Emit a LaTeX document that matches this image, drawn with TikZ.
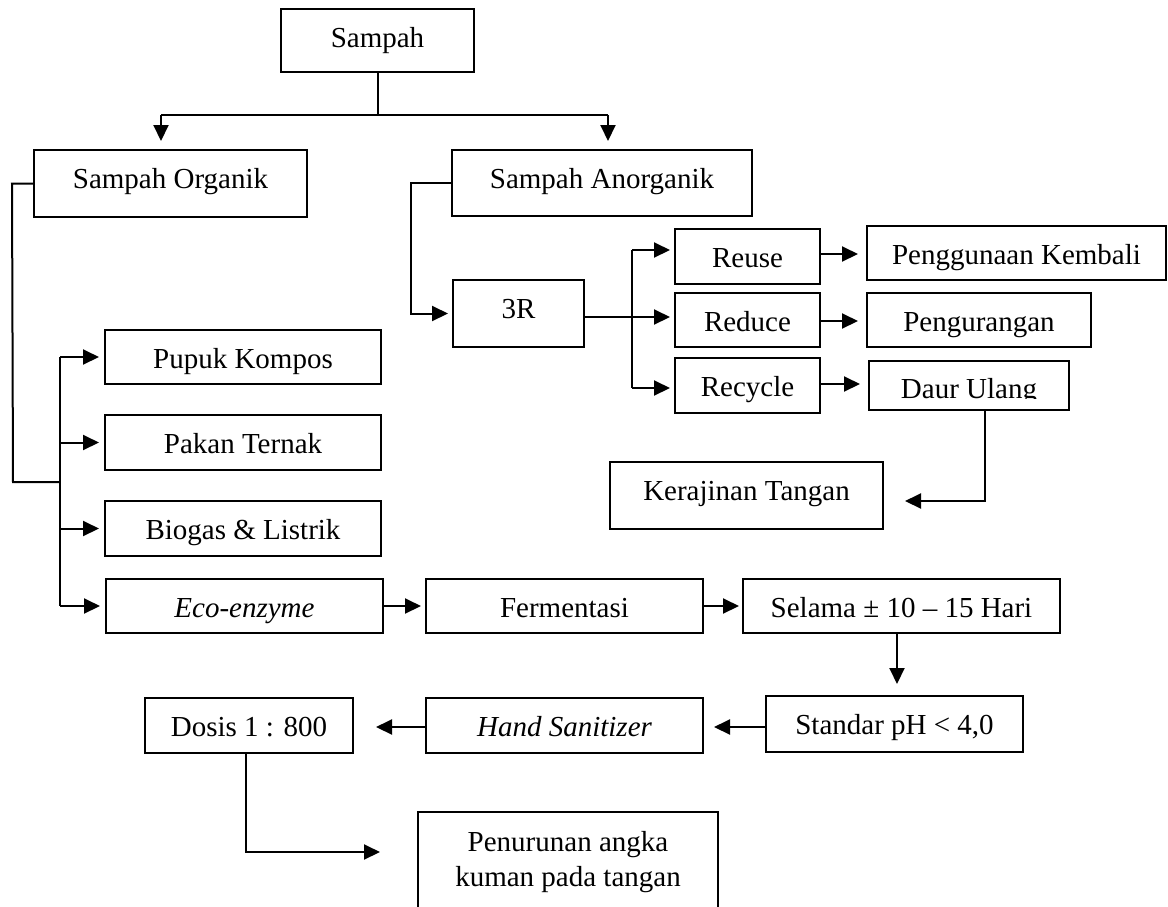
\documentclass[tikz,border=0pt]{standalone}
\usepackage{fontspec}
\setmainfont{Liberation Serif}
\usetikzlibrary{arrows.meta}
\begin{document}
\begin{tikzpicture}[x=1pt,y=-1pt,
  box/.style={draw=black,line width=2pt,rectangle,inner sep=0pt,align=center,
    font=\fontsize{29}{35}\selectfont},
  bx/.style n args={3}{box,minimum width=#1pt,minimum height=#2pt,text height=#3pt,text depth=8pt},
  line/.style={line width=2pt},
  arr/.style={line width=2pt,-{Triangle[length=16pt,width=15pt]}}]
\useasboundingbox (0,0) rectangle (1168,906);
% nodes
\node[bx={193}{63}{21}] (sampah) at (377.5,40.5) {Sampah};
\node[bx={273}{67}{17}] (org) at (170.5,183.5) {Sampah Organik};
\node[bx={300}{66}{18}] (anorg) at (602,183) {Sampah Anorganik};
\node[bx={131}{67}{17}] (r3) at (518.5,313.5) {3R};
\node[bx={145}{55}{29}] (reuse) at (747.5,256.5) {Reuse};
\node[bx={145}{54}{30}] (reduce) at (747.5,320) {Reduce};
\node[bx={145}{55}{29}] (recycle) at (747.5,385.5) {Recycle};
\node[bx={299}{54}{30}] (peng) at (1016.5,253) {Penggunaan Kembali};
\node[bx={224}{54}{30}] (pengur) at (979,320) {Pengurangan};
\node[box,minimum width=200pt,minimum height=49pt] (daur) at (969,385.5) {};
\begin{scope}
\clip (869,361) rectangle (1069,398.5);
\node[font=\fontsize{29}{35}\selectfont,anchor=base,inner sep=0pt] (daurtext) at (969,398) {Daur Ulang};
\end{scope}
\node[bx={273}{67}{17}] (kera) at (746.5,495.5) {Kerajinan Tangan};
\node[bx={276}{54}{30}] (pupuk) at (243,357) {Pupuk Kompos};
\node[bx={276}{55}{29}] (pakan) at (243,442.5) {Pakan Ternak};
\node[bx={276}{55}{29}] (biogas) at (243,528.5) {Biogas \& Listrik};
\node[bx={277}{54}{30}] (eco) at (244.5,606) {\itshape Eco-enzyme};
\node[bx={277}{54}{30}] (ferm) at (564.5,606) {Fermentasi};
\node[bx={317}{54}{30}] (selama) at (901.5,606) {Selama ± 10 – 15 Hari};
\node[bx={257}{56}{28}] (standar) at (894.5,724) {Standar pH {\textless} 4,0};
\node[bx={277}{55}{29}] (hand) at (564.5,725.5) {\itshape Hand Sanitizer};
\node[bx={208}{55}{29}] (dosis) at (249,725.5) {Dosis 1 : 800};
\node[box,minimum width=300pt,minimum height=100pt] (penur) at (568,862) {Penurunan angka\\kuman pada tangan};
% helper coordinates
\coordinate (topbar) at (0,115);
\coordinate (tl) at (161,115);
\coordinate (tr) at (608,115);
\coordinate (lj) at (13,482);
\coordinate (br) at (60,482);
\coordinate (ajx) at (411,0);
\coordinate (rbx) at (632,0);
\coordinate (dx) at (985,0);
\coordinate (dy) at (0,501);
\coordinate (sx) at (897,0);
\coordinate (qx) at (246,0);
\coordinate (qy) at (0,852);
% top split
\draw[line] (sampah.south) -- (sampah.south |- topbar);
\draw[line] (tl) -- (tr);
\draw[arr,shorten >=8pt] (tl) -- (tl |- org.north);
\draw[arr,shorten >=8pt] (tr) -- (tr |- anorg.north);
% organik branches
\draw[line] (org.west) -- ++(-21,0) -- (lj) -- (br);
\draw[line] (pupuk.west -| br) -- (eco.west -| br);
\draw[arr,shorten >=5pt] (pupuk.west -| br) -- (pupuk.west);
\draw[arr,shorten >=5pt] (pakan.west -| br) -- (pakan.west);
\draw[arr,shorten >=5pt] (biogas.west -| br) -- (biogas.west);
\draw[arr,shorten >=5pt] (eco.west -| br) -- (eco.west);
% anorganik
\draw[arr,shorten >=4pt] (anorg.west) -- (anorg.west -| ajx) |- (r3.west);
\draw[line] (r3.east |- 0,317) -- (rbx |- 0,317);
\draw[line] (rbx |- 0,250) -- (rbx |- 0,388);
\draw[arr,shorten >=4pt] (rbx |- 0,250) -- (reuse.west |- 0,250);
\draw[arr,shorten >=4pt] (rbx |- 0,317) -- (reduce.west |- 0,317);
\draw[arr,shorten >=4pt] (rbx |- 0,388) -- (recycle.west |- 0,388);
\draw[arr,shorten >=8pt] (reuse.east |- 0,254) -- (peng.west |- 0,254);
\draw[arr,shorten >=8pt] (reduce.east |- 0,321) -- (pengur.west |- 0,321);
\draw[arr,shorten >=8pt] (recycle.east |- 0,384) -- (daur.west |- 0,384);
\draw[arr,shorten >=21pt] (daur.south -| dx) -- (dx |- dy) -- (kera.east |- dy);
% eco chain
\draw[arr,shorten >=4pt] (eco.east) -- (ferm.west);
\draw[arr,shorten >=3pt] (ferm.east) -- (selama.west);
\draw[arr,shorten >=11pt] (selama.south -| sx) -- (standar.north -| sx);
\draw[arr,shorten >=10pt] (standar.west |- 0,727) -- (hand.east |- 0,727);
\draw[arr,shorten >=22pt] (hand.west |- 0,727) -- (dosis.east |- 0,727);
\draw[arr,shorten >=37pt] (dosis.south -| qx) -- (qx |- qy) -- (penur.west |- qy);
\end{tikzpicture}
\end{document}
